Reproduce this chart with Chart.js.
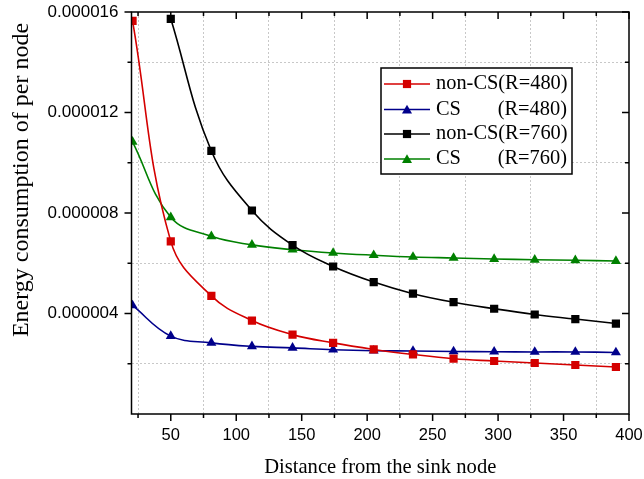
<!DOCTYPE html>
<html>
<head>
<meta charset="utf-8">
<script src="https://cdn.jsdelivr.net/npm/chart.js@4.4.1/dist/chart.umd.min.js"></script>
<style>
  html, body { margin: 0; padding: 0; background: #fff; }
  #wrap { width: 644px; height: 479px; }
</style>
</head>
<body>
<div id="wrap"><canvas id="chart" width="644" height="479"></canvas></div>
<script>
// distances (x) shared by all series
var DISTANCES = [20.8, 50, 81, 112, 143, 174, 205, 235, 266, 297, 328, 359, 390];
var NONCS_480 = [15.65e-6, 6.87e-6, 4.70e-6, 3.72e-6, 3.16e-6, 2.83e-6, 2.57e-6, 2.37e-6, 2.20e-6, 2.11e-6, 2.03e-6, 1.95e-6, 1.87e-6];
var CS_480    = [4.32e-6, 3.10e-6, 2.83e-6, 2.69e-6, 2.63e-6, 2.56e-6, 2.52e-6, 2.51e-6, 2.49e-6, 2.48e-6, 2.47e-6, 2.47e-6, 2.45e-6];
var NONCS_760 = [null, 15.73e-6, 10.47e-6, 8.10e-6, 6.72e-6, 5.87e-6, 5.25e-6, 4.79e-6, 4.45e-6, 4.19e-6, 3.96e-6, 3.78e-6, 3.60e-6];
var CS_760    = [10.83e-6, 7.83e-6, 7.07e-6, 6.73e-6, 6.54e-6, 6.41e-6, 6.32e-6, 6.25e-6, 6.21e-6, 6.17e-6, 6.14e-6, 6.12e-6, 6.09e-6];

var X_TICKS = [25, 50, 75, 100, 125, 150, 175, 200, 225, 250, 275, 300, 325, 350, 375, 400];
var Y_TICKS = [0.000002, 0.000004, 0.000006, 0.000008, 0.00001, 0.000012, 0.000014, 0.000016];

var SERIES = [
    { label: 'non-CS(R=480)', left: 'non-CS(R=480)', right: '', data: NONCS_480, color: '#d40000', marker: 'rect' },
    { label: 'CS (R=480)', left: 'CS', right: '(R=480)', data: CS_480, color: '#00008b', marker: 'triangle' },
    { label: 'non-CS(R=760)', left: 'non-CS(R=760)', right: '', data: NONCS_760, color: '#000000', marker: 'rect' },
    { label: 'CS (R=760)', left: 'CS', right: '(R=760)', data: CS_760, color: '#008000', marker: 'triangle' }
];

var SANS = "'Liberation Sans', Arial, sans-serif";
var SERIF = "'Liberation Serif', 'Times New Roman', serif";

function isMajorX(v) { return v % 50 === 0; }
function isMajorY(v) { return Math.round(v * 1e6) % 4 === 0; }

function marker(ctx, style, x, y, r, color) {
    ctx.fillStyle = color;
    ctx.beginPath();
    if (style === 'rect') {
        var s = Math.SQRT1_2 * r;
        ctx.rect(x - s, y - s, 2 * s, 2 * s);
    } else {
        ctx.moveTo(x, y - r);
        ctx.lineTo(x + r * 0.866, y + r * 0.5);
        ctx.lineTo(x - r * 0.866, y + r * 0.5);
        ctx.closePath();
    }
    ctx.fill();
}

function noPad(s) {
    s.paddingLeft = 0; s.paddingRight = 0; s.paddingTop = 0; s.paddingBottom = 0;
}

// frame box with Origin-style ticks (out on bottom/left, in on top/right)
var frame = {
    id: 'frame',
    afterDatasetsDraw: function (chart) {
        var ctx = chart.ctx, a = chart.chartArea, x = chart.scales.x, y = chart.scales.y;
        ctx.save();
        ctx.strokeStyle = '#000';
        ctx.lineWidth = 1.5;
        ctx.strokeRect(a.left, a.top, a.right - a.left, a.bottom - a.top);
        ctx.beginPath();
        X_TICKS.forEach(function (v) {
            var px = x.getPixelForValue(v), len = isMajorX(v) ? 7 : 4;
            ctx.moveTo(px, a.bottom); ctx.lineTo(px, a.bottom + len);
            ctx.moveTo(px, a.top); ctx.lineTo(px, a.top + len);
        });
        Y_TICKS.forEach(function (v) {
            var py = y.getPixelForValue(v), len = isMajorY(v) ? 7 : 4;
            ctx.moveTo(a.left - len, py); ctx.lineTo(a.left, py);
            ctx.moveTo(a.right - len, py); ctx.lineTo(a.right, py);
        });
        ctx.stroke();
        ctx.restore();
    },
    afterDraw: function (chart) {
        var ctx = chart.ctx, a = chart.chartArea;
        ctx.save();
        ctx.fillStyle = '#000';
        // axis titles
        ctx.font = '20.6px ' + SERIF;
        ctx.textAlign = 'center';
        ctx.textBaseline = 'alphabetic';
        ctx.fillText('Distance from the sink node', (a.left + a.right) / 2, 473);
        ctx.translate(22, 180);
        ctx.rotate(-Math.PI / 2);
        ctx.font = '24px ' + SERIF;
        ctx.textBaseline = 'middle';
        ctx.fillText('Energy consumption of per node', 0, 0);
        ctx.restore();

        // legend box
        ctx.save();
        ctx.fillStyle = '#fff';
        ctx.fillRect(381, 68, 191, 106);
        ctx.strokeStyle = '#000';
        ctx.lineWidth = 1.5;
        ctx.strokeRect(381, 68, 191, 106);
        ctx.font = '20.4px ' + SERIF;
        ctx.textBaseline = 'middle';
        var rows = [84, 109.5, 134, 159];
        SERIES.forEach(function (s, i) {
            var ry = rows[i];
            ctx.strokeStyle = s.color;
            ctx.lineWidth = 1.5;
            ctx.beginPath(); ctx.moveTo(384, ry); ctx.lineTo(430, ry); ctx.stroke();
            marker(ctx, s.marker, 407, s.marker === 'rect' ? ry : ry + 1, 5.8, s.color);
            ctx.fillStyle = '#000';
            ctx.textAlign = 'left';
            ctx.fillText(s.left, 436, ry);
            if (s.right) {
                ctx.textAlign = 'right';
                ctx.fillText(s.right, 567, ry);
            }
        });
        ctx.restore();
    }
};

var datasets = SERIES.map(function (s) {
    return {
        label: s.label,
        data: DISTANCES.map(function (d, i) { return { x: d, y: s.data[i] }; }).filter(function (p) { return p.y !== null; }),
        borderColor: s.color,
        backgroundColor: s.color,
        borderWidth: 1.6,
        pointStyle: s.marker,
        pointRadius: 5.8,
        pointBorderWidth: 0,
        pointBackgroundColor: s.color,
        tension: 0.4,
        clip: 0
    };
});

new Chart(document.getElementById('chart'), {
    type: 'line',
    data: { datasets: datasets },
    options: {
        responsive: false,
        devicePixelRatio: 1,
        animation: false,
        layout: { padding: { left: 0, right: 15, top: 12, bottom: 0 } },
        plugins: { legend: { display: false }, tooltip: { enabled: false } },
        scales: {
            x: {
                type: 'linear', min: 20, max: 400,
                afterBuildTicks: function (s) { s.ticks = X_TICKS.map(function (v) { return { value: v }; }); },
                afterFit: function (s) { s.height = 65; noPad(s); },
                ticks: {
                    autoSkip: false, maxRotation: 0, padding: 12, color: '#000',
                    font: { family: SANS, size: 16.5 },
                    callback: function (v) { return isMajorX(v) ? String(v) : ''; }
                },
                grid: {
                    drawTicks: false, lineWidth: 1,
                    color: function (c) { return c.tick && !isMajorX(c.tick.value) ? '#c8c8c8' : 'rgba(0,0,0,0)'; }
                },
                border: { display: false, dash: [2, 2] }
            },
            y: {
                type: 'linear', min: 0, max: 0.000016,
                afterBuildTicks: function (s) { s.ticks = Y_TICKS.map(function (v) { return { value: v }; }); },
                afterFit: function (s) { s.width = 131.5; noPad(s); },
                ticks: {
                    autoSkip: false, padding: 13, color: '#000',
                    font: { family: SANS, size: 17 },
                    callback: function (v) { return isMajorY(v) ? v.toFixed(6) : ''; }
                },
                grid: {
                    drawTicks: false, lineWidth: 1,
                    color: function (c) { return c.tick && !isMajorY(c.tick.value) ? '#c8c8c8' : 'rgba(0,0,0,0)'; }
                },
                border: { display: false, dash: [2, 2] }
            }
        }
    },
    plugins: [frame]
});
</script>
</body>
</html>
